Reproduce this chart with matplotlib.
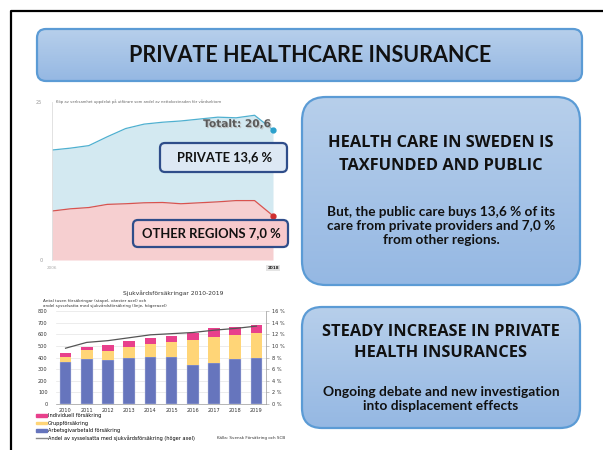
import matplotlib.pyplot as plt
import numpy as np
from matplotlib.patches import FancyBboxPatch, Patch
from matplotlib.lines import Line2D
from matplotlib.colors import LinearSegmentedColormap
import matplotlib.patheffects as pe

W, H = 603, 450

# --- data: purchased care as share of net cost (area chart)
years_area = list(range(2006, 2019))
total_share = [17.4, 17.7, 18.1, 19.5, 20.8, 21.5, 21.8, 22.0, 22.3, 22.6, 22.5, 22.9, 20.6]
other_regions = [7.75, 8.1, 8.3, 8.8, 8.9, 9.05, 9.1, 8.9, 9.05, 9.2, 9.4, 9.4, 7.0]

# --- data: health insurances 2010-2019 (bar chart)
years_bar = ['2010', '2011', '2012', '2013', '2014', '2015', '2016', '2017', '2018', '2019']
employer_paid = [358, 390, 375, 398, 408, 407, 336, 355, 387, 399]
group_ins = [49, 75, 80, 92, 110, 130, 214, 225, 206, 210]
individual = [29, 25, 50, 50, 47, 48, 63, 70, 67, 71]
share_employed = [9.6, 10.6, 10.9, 11.4, 11.9, 12.1, 12.3, 12.7, 13.0, 13.4]

BOLD = 'Lato'
HEAD = 'Open Sans'

fig = plt.figure(figsize=(W / 100, H / 100), dpi=100)
fig.patch.set_facecolor('white')


def px_axes(x0, y0, x1, y1, **kw):
    return fig.add_axes([x0 / W, 1 - y1 / H, (x1 - x0) / W, (y1 - y0) / H], **kw)


# background layer (slide)
bg = fig.add_axes([0, 0, 1, 1], zorder=0)
bg.set_xlim(0, W)
bg.set_ylim(H, 0)
bg.axis('off')
bg.plot([11, 11, W], [H, 11, 11], color='black', lw=1.6, solid_capstyle='butt')

grad_cmap = LinearSegmentedColormap.from_list('g', ['#b7cfeb', '#95b8e3'])


def blue_box(ax, x0, y0, x1, y1, r):
    box = FancyBboxPatch((x0, y0), x1 - x0, y1 - y0,
                         boxstyle=f"round,pad=0,rounding_size={r}",
                         facecolor='none', edgecolor='#5b9bd5', lw=1.6, zorder=3)
    ax.add_patch(box)
    grad = np.linspace(0, 1, 100).reshape(-1, 1)
    img = ax.imshow(grad, extent=(x0, x1, y1, y0), cmap=grad_cmap,
                    aspect='auto', zorder=2, interpolation='bilinear')
    img.set_clip_path(box)


blue_box(bg, 37, 29, 582, 81, 9)
bg.text(310, 55, 'PRIVATE HEALTHCARE INSURANCE', ha='center', va='center',
        fontsize=15.5, fontweight='bold', family=BOLD, color='#111111', zorder=4)

blue_box(bg, 302, 97, 580, 285, 24)
bg.text(441, 143, 'HEALTH CARE IN SWEDEN IS', ha='center', va='center',
        fontsize=11.8, fontweight='bold', family=HEAD, color='#111111', zorder=4)
bg.text(441, 166, 'TAXFUNDED AND PUBLIC', ha='center', va='center',
        fontsize=11.8, fontweight='bold', family=HEAD, color='#111111', zorder=4)
bg.text(441, 226, 'But, the public care buys 13,6 % of its\ncare from private providers and 7,0 %\nfrom other regions.',
        ha='center', va='center', fontsize=9.8, fontweight='bold', family=BOLD,
        color='#111111', linespacing=1.2, zorder=4)

blue_box(bg, 302, 307, 580, 428, 20)
bg.text(441, 332, 'STEADY INCREASE IN PRIVATE', ha='center', va='center',
        fontsize=11.8, fontweight='bold', family=HEAD, color='#111111', zorder=4)
bg.text(441, 353, 'HEALTH INSURANCES', ha='center', va='center',
        fontsize=11.8, fontweight='bold', family=HEAD, color='#111111', zorder=4)
bg.text(441, 399, 'Ongoing debate and new investigation\ninto displacement effects',
        ha='center', va='center', fontsize=9.9, fontweight='bold', family=BOLD,
        color='#111111', linespacing=1.2, zorder=4)

# --- area chart
ax1 = px_axes(52, 102, 273, 260, zorder=1)
ax1.fill_between(years_area, 0, other_regions, color='#f6cfd0', lw=0)
ax1.fill_between(years_area, other_regions, total_share, color='#d3e9f1', lw=0)
ax1.plot(years_area, total_share, color='#4fb0d0', lw=0.9)
ax1.plot(years_area, other_regions, color='#d9534f', lw=0.9)
ax1.plot(years_area[-1], total_share[-1], 'o', color='#2aa0cc', ms=3.5, clip_on=False)
ax1.plot(years_area[-1], other_regions[-1], 'o', color='#d03030', ms=3.5, clip_on=False)
ax1.set_xlim(2006, 2018)
ax1.set_ylim(0, 25)
for s in ['top', 'right', 'bottom']:
    ax1.spines[s].set_visible(False)
ax1.spines['left'].set_color('#dddddd')
ax1.spines['left'].set_linewidth(0.6)
ax1.set_yticks([0, 25])
ax1.set_yticklabels(['0', '25'], fontsize=3.5, color='#999999')
ax1.tick_params(axis='y', length=0, pad=7)
ax1.set_xticks([])
ax1.patch.set_alpha(0)
ax1.text(2006.2, 25, 'Köp av verksamhet uppdelat på utförare som andel av nettokostnaden för vårdsektorn',
         fontsize=2.7, color='#666666', va='center')
ax1.text(2006, -1.3, '2006', fontsize=3, color='#aaaaaa', ha='center', va='center')
ax1.text(2018, -1.3, '2018', fontsize=3, color='#222222', ha='center', va='center', fontweight='bold',
         bbox=dict(boxstyle='square,pad=0.2', fc='#e4e4e4', ec='none'))

# --- bar chart
ax2 = px_axes(56, 311, 266, 404, zorder=1)
x = np.arange(len(years_bar))
bw = 0.55
ax2.bar(x, employer_paid, bw, color='#6675bd', edgecolor='#c8cce6', lw=0.3, zorder=2)
ax2.bar(x, group_ins, bw, bottom=employer_paid, color='#ffd577', lw=0, zorder=2)
tops = np.array(employer_paid) + np.array(group_ins)
ax2.bar(x, individual, bw, bottom=tops, color='#e8408c', lw=0, zorder=2)
ax2.set_xlim(-0.45, 9.45)
ax2.set_ylim(0, 800)
ax2.set_yticks(range(0, 801, 100))
ax2.tick_params(axis='y', labelsize=3.6, length=0, pad=6, labelcolor='#333333')
ax2.set_xticks(x)
ax2.set_xticklabels(years_bar, fontsize=3.6, color='#333333')
ax2.tick_params(axis='x', length=0, pad=3)
ax2.grid(axis='y', color='#e4e4e4', lw=0.5, zorder=0)
for s in ['top', 'right', 'left']:
    ax2.spines[s].set_visible(False)
ax2.spines['bottom'].set_color('#999999')
ax2.spines['bottom'].set_linewidth(0.5)
ax2r = ax2.twinx()
ax2r.plot(x, share_employed, color='#555555', lw=0.9, zorder=3)
ax2r.set_ylim(0, 16)
ax2r.set_yticks(range(0, 17, 2))
ax2r.set_yticklabels([f'{v} %' for v in range(0, 17, 2)], fontsize=3.6, color='#333333')
ax2r.tick_params(axis='y', length=2, width=0.4, color='#999999', pad=2)
for s in ['top', 'left', 'bottom']:
    ax2r.spines[s].set_visible(False)
ax2r.spines['right'].set_color('#999999')
ax2r.spines['right'].set_linewidth(0.5)

bg.text(173, 293, 'Sjukvårdsförsäkringar 2010-2019', fontsize=4.3, ha='center', va='center', color='#333333')
bg.text(43, 301, 'Antal tusen försäkringar (stapel, vänster axel) och', fontsize=3, va='center', color='#333333')
bg.text(43, 305.5, 'andel sysselsatta med sjukvårdsförsäkring (linje, högeraxel)', fontsize=3, va='center', color='#333333')
bg.text(217, 438, 'Källa: Svensk Försäkring och SCB', fontsize=3, va='center', color='#333333')

handles = [Patch(color='#e8408c'), Patch(color='#ffd577'), Patch(color='#6675bd'),
           Line2D([], [], color='#888888', lw=1)]
labels = ['Individuell försäkring', 'Gruppförsäkring', 'Arbetsgivarbetald försäkring',
          'Andel av sysselsatta med sjukvårdsförsäkring (höger axel)']
fig.legend(handles, labels, loc='upper left', bbox_to_anchor=(33 / W, 1 - 411 / H),
           fontsize=3.6, frameon=False, handlelength=2.2, handleheight=0.5,
           labelspacing=0.45, handletextpad=0.3, borderpad=0)

# --- foreground labels over the area chart
fg = fig.add_axes([0, 0, 1, 1], zorder=5)
fg.set_xlim(0, W)
fg.set_ylim(H, 0)
fg.axis('off')
fg.text(271, 124, 'Totalt: 20,6', ha='right', va='center', fontsize=7.6, fontweight='bold',
        family='DejaVu Sans', color='#5a5a5a',
        path_effects=[pe.withSimplePatchShadow(offset=(0.8, -0.8), shadow_rgbFace='#bbbbbb', alpha=0.8)])
fg.add_patch(FancyBboxPatch((160, 143), 127, 29, boxstyle='round,pad=0,rounding_size=5',
                            fc='#dde8f4', ec='#2f4d8a', lw=1.6))
fg.text(224.5, 157.5, 'PRIVATE 13,6 %', ha='center', va='center', fontsize=9.3,
        fontweight='bold', family=BOLD, color='#111111')
fg.add_patch(FancyBboxPatch((133, 220), 155, 27, boxstyle='round,pad=0,rounding_size=5',
                            fc='#f8c9cc', ec='#2f4d8a', lw=1.6))
fg.text(211, 233.5, 'OTHER REGIONS 7,0 %', ha='center', va='center', fontsize=9.4,
        fontweight='bold', family=BOLD, color='#111111')

fig.savefig('out.png', dpi=100)
